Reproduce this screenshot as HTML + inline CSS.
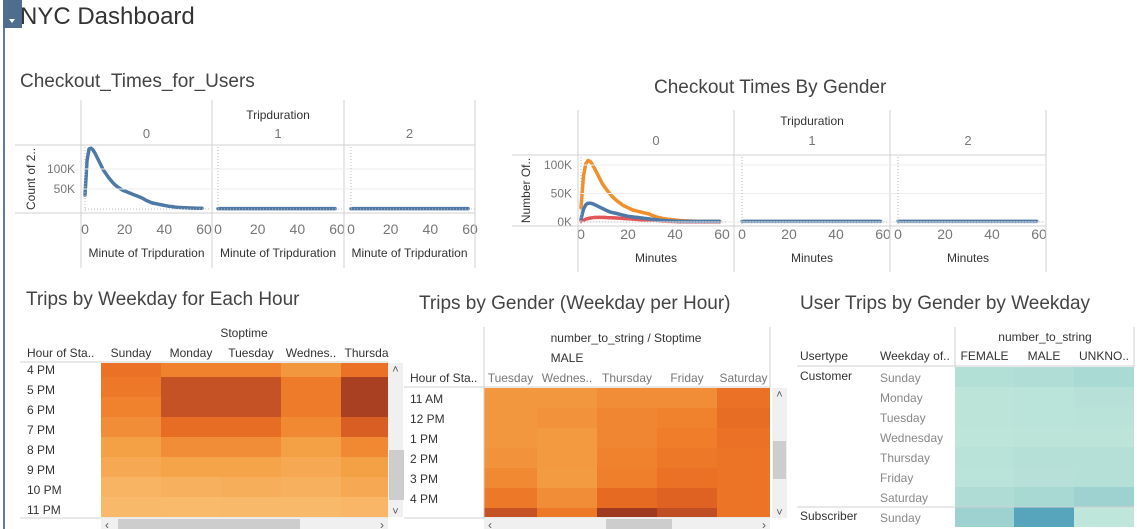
<!DOCTYPE html>
<html><head><meta charset="utf-8">
<style>
html,body{margin:0;padding:0;background:#fff;}
svg{display:block;font-family:"Liberation Sans",sans-serif;}
</style></head>
<body>
<svg id="dash" width="1137" height="529" viewBox="0 0 1137 529" xmlns="http://www.w3.org/2000/svg">
  <rect x="3" y="0" width="2" height="529" fill="#5b7ba0"/>
  <rect x="3" y="0" width="19" height="28" fill="#4f6d8f"/>
  <path d="M9 19 L15 19 L12 23 Z" fill="#fff"/>
  <text x="20" y="24" font-size="24" fill="#333">NYC Dashboard</text>

  <text x="20" y="87" font-size="19" fill="#444">Checkout_Times_for_Users</text>
  <text x="654" y="93" font-size="19" fill="#444">Checkout Times By Gender</text>
  <text x="26" y="305" font-size="19" fill="#444">Trips by Weekday for Each Hour</text>
  <text x="419" y="309" font-size="19" fill="#444">Trips by Gender (Weekday per Hour)</text>
  <text x="800" y="309" font-size="19" fill="#444">User Trips by Gender by Weekday</text>
  <g id="g"></g>
</svg>
<script>
// ---------- data ----------
const minutes = [];
for (let i = 0; i < 60; i++) minutes.push(i);
const usersP0 = [35,120,150,152,148,140,130,120,110,100,92,85,78,72,66,61,57,53,50,47,45,43,41,39,37,35,33,31,29,27,24,21,19,17,15,14,13,12,11,10,9,8,7,6.5,6,5,4.5,4,3.8,3.5,3.2,3,2.8,2.6,2.4,2.2,2.1,2,2,2];
const usersP1 = [1,1,1,1,1,1,1,1,1,1,1,1,1,1,1,1,1,1,1,1,1,1,1,1,1,1,1,1,1,1,1,1,1,1,1,1,1,1,1,1,1,1,1,1,1,1,1,1,1,1,1,1,1,1,1,1,1,1,1,1];
const usersP2 = usersP1.slice();
const genderOrangeP0 = [25,80,102,108,106,100,92,84,76,68,62,56,51,46,42,38,35,32,29,27,25,23,21,20,19,18,17,16,15,14,12,10.5,9,8,7,6,5.5,5,4.5,4,3.5,3,2.7,2.4,2.1,1.9,1.7,1.5,1.3,1.2,1.1,1,1,1,1,1,1,1,1,1];
const genderBlueP0 = [5,22,30,33,33,32,30,28,26,24,22,20,18,17,16,15,14,13,12,11,10,9.5,9,8.5,8,7.5,7,6.5,6,5.5,5,4.5,4,3.5,3,2.7,2.4,2.1,1.9,1.7,1.5,1.3,1.1,1,1,1,1,1,1,1,1,1,1,1,1,1,1,1,1,1];
const genderRedP0 = [1,3,5,6,7,7.5,8,8,8,8,8,7.8,7.6,7.4,7.2,7,6.8,6.5,6.2,6,5.7,5.4,5.1,4.8,4.5,4.2,3.9,3.6,3.3,3,2.7,2.4,2.1,1.9,1.7,1.5,1.3,1.1,1,0.9,0.8,0.7,0.6,0.5,0.5,0.5,0.5,0.5,0.5,0.5,0.5,0.5,0.5,0.5,0.5,0.5,0.5,0.5,0.5,0.5];
const flatP = usersP1.slice();
const xTicks = [0,20,40,60];
const yTicks1 = ["50K","100K"], yTickVals1 = [50,100];
const yTicks2 = ["0K","50K","100K"], yTickVals2 = [0,50,100];

const hm1Rows = ["4 PM","5 PM","6 PM","7 PM","8 PM","9 PM","10 PM","11 PM"];
const hm1Cols = ["Sunday","Monday","Tuesday","Wednes..","Thursda"];
const hm1Vals = [
 [72,62,62,50,72],[68,88,88,66,97],[62,88,88,66,97],[56,74,74,58,82],
 [45,56,56,45,58],[38,42,42,38,45],[30,32,34,32,38],[26,25,26,26,28]];
const hm2Rows = ["11 AM","12 PM","1 PM","2 PM","3 PM","4 PM","5 PM"];
const hm2Cols = ["Tuesday","Wednes..","Thursday","Friday","Saturday"];
const hm2Vals = [
 [50,50,56,56,72],[50,53,60,62,74],[50,49,60,65,72],[53,49,62,68,70],
 [58,48,64,72,70],[68,56,76,80,70],[88,68,100,90,70]];
const hm3Days = ["Sunday","Monday","Tuesday","Wednesday","Thursday","Friday","Saturday","Sunday"];
const hm3Cols = ["FEMALE","MALE","UNKNO.."];
const hm3Vals = [[18,20,28],[6,9,12],[6,9,10],[4,6,6],[10,14,16],[8,12,14],[22,30,42],[42,88,3]];

// ---------- helpers ----------
const NS = "http://www.w3.org/2000/svg";
const G = document.getElementById("g");
function mk(tag, attrs, parent) {
  const e = document.createElementNS(NS, tag);
  for (const k in attrs) e.setAttribute(k, attrs[k]);
  (parent || G).appendChild(e);
  return e;
}
function txt(x, y, s, size, fill, anchor, parent) {
  const t = mk("text", {x: x, y: y, "font-size": size, fill: fill, "text-anchor": anchor || "start"}, parent);
  t.textContent = s;
  return t;
}
function lerpHex(a, b, t) {
  const pa = [1,3,5].map(i => parseInt(a.substr(i,2),16));
  const pb = [1,3,5].map(i => parseInt(b.substr(i,2),16));
  return "rgb(" + pa.map((v,i) => Math.round(v + (pb[i]-v)*t)).join(",") + ")";
}
function scaleColor(stops, v) {
  const t = Math.max(0, Math.min(1, v/100));
  for (let i = 1; i < stops.length; i++) {
    if (t <= stops[i][0]) {
      const f = (t - stops[i-1][0]) / (stops[i][0] - stops[i-1][0]);
      return lerpHex(stops[i-1][1], stops[i][1], f);
    }
  }
  return stops[stops.length-1][1];
}
const orangeStops = [[0,"#fdd3a0"],[0.25,"#f9ba6c"],[0.45,"#f4a044"],[0.65,"#ef7d2a"],[0.78,"#e56622"],[0.9,"#bf4e24"],[1,"#9e3a20"]];
const tealStops = [[0,"#c1e7db"],[0.3,"#a8d9d3"],[0.6,"#8dc7cd"],[1,"#3e97b5"]];
const line = (x1,y1,x2,y2,c,w,dash,name) => {
  const l = mk("line", {x1:x1,y1:y1,x2:x2,y2:y2,stroke:c||"#d4d4d4","stroke-width":w||1});
  if (dash) l.setAttribute("stroke-dasharray", dash);
  
  
  return l;
};

// ---------- line charts ----------
function lineChart(cfg) {
  const g = mk("g", {});
  
  
  cfg.vlines.forEach(x => line(x, cfg.frameTop, x, cfg.frameBot, "#d0d0d0", 1, null, "panel-divider"));
  line(cfg.vlines[0] - 66, cfg.plotTop, cfg.vlines[3], cfg.plotTop, "#d0d0d0", 1, null, "plot-top-border");
  line(cfg.vlines[0] - 66, cfg.plotBot, cfg.vlines[3], cfg.plotBot, "#d0d0d0", 1, null, "plot-bottom-border");
  const ySc = v => cfg.y0 - v * cfg.yPer;
  cfg.yVals.forEach((v, i) => {
    line(cfg.vlines[0], ySc(v), cfg.vlines[3], ySc(v), "#eeeeee", 1, null, "y-gridline");
    const t = txt(cfg.vlines[0] - 6, ySc(v) + 4, cfg.yLabels[i], 12, "#777", "end", g);
    
    
  });
  const tt = txt((cfg.vlines[0] + cfg.vlines[3]) / 2, cfg.facetTitleY, "Tripduration", 12, "#333", "middle", g);
  
  
  const yt = txt(0, 0, cfg.yTitle, 12, "#333", "middle", g);
  yt.setAttribute("transform", "translate(" + cfg.yTitleX + "," + (cfg.plotTop + cfg.plotBot) / 2 + ") rotate(-90)");
  
  
  for (let p = 0; p < 3; p++) {
    const x0 = cfg.x0s[p], xSc = m => x0 + m * cfg.xPer;
    const ft = txt((cfg.vlines[p] + cfg.vlines[p+1]) / 2, cfg.facetY, String(p), 13, "#777", "middle", g);
    
    
    line(x0, cfg.plotTop + 2, x0, cfg.plotBot, "#bbb", 1, "1,2", "zero-line");
    line(x0, cfg.y0, x0 + 60 * cfg.xPer + 6, cfg.y0, "#bbb", 1, "1,2", "baseline");
    xTicks.forEach(v => {
      const t = txt(xSc(v), cfg.xTickY, String(v), 14, "#777", "middle", g);
      
      
    });
    const at = txt((cfg.vlines[p] + cfg.vlines[p+1]) / 2, cfg.xTitleY, cfg.xTitle, 12, "#333", "middle", g);
    
    
    cfg.series[p].forEach(s => {
      const d = minutes.map((m, i) => (i ? "L" : "M") + xSc(m).toFixed(1) + " " + ySc(s.vals[i]).toFixed(1)).join(" ");
      const path = mk("path", {d: d, fill: "none", stroke: s.color, "stroke-width": 3.5, "stroke-linejoin": "round", "stroke-linecap": "round"}, g);
      
      
    });
  }
}
lineChart({
  name: "checkout-times-users-chart", vlines: [81, 212, 344, 475], frameTop: 100, frameBot: 268,
  plotTop: 145, plotBot: 213, y0: 209, yPer: 0.4, yVals: yTickVals1, yLabels: yTicks1,
  facetTitleY: 119, facetY: 138, yTitle: "Count of 2..", yTitleX: 35,
  x0s: [85, 218, 351], xPer: 119 / 60, xTickY: 234, xTitle: "Minute of Tripduration", xTitleY: 257,
  series: [[{vals: usersP0, color: "#4e79a7", name: "users"}], [{vals: usersP1, color: "#4e79a7", name: "users"}], [{vals: usersP2, color: "#4e79a7", name: "users"}]]
});
lineChart({
  name: "checkout-times-gender-chart", vlines: [578, 734, 890, 1046], frameTop: 110, frameBot: 272,
  plotTop: 155, plotBot: 226, y0: 222, yPer: 0.57, yVals: yTickVals2, yLabels: yTicks2,
  facetTitleY: 125, facetY: 145, yTitle: "Number Of..", yTitleX: 530,
  x0s: [581, 742, 898], xPer: 141 / 60, xTickY: 239, xTitle: "Minutes", xTitleY: 262,
  series: [
    [{vals: genderOrangeP0, color: "#f28e2b", name: "male"}, {vals: genderRedP0, color: "#e15759", name: "unknown"}, {vals: genderBlueP0, color: "#4e79a7", name: "female"}],
    [{vals: flatP, color: "#4e79a7", name: "female"}],
    [{vals: flatP, color: "#4e79a7", name: "female"}]]
});

// ---------- heatmaps ----------
function scrollV(x, y, w, h, thumbY, thumbH, name) {
  const r = mk("rect", {x: x, y: y, width: w, height: h, fill: "#f0f0f0"});
  
  
  mk("rect", {x: x + 1, y: thumbY, width: w - 2, height: thumbH, fill: "#cdcdcd"});
  txt(x + w / 2, y + 10, "˄", 11, "#555", "middle");
  txt(x + w / 2, y + h - 2, "˅", 11, "#555", "middle");
}
function scrollH(x, y, w, h, thumbX, thumbW, name) {
  const r = mk("rect", {x: x, y: y, width: w, height: h, fill: "#f0f0f0"});
  
  
  mk("rect", {x: thumbX, y: y + 1, width: thumbW, height: h - 1, fill: "#cdcdcd"});
  txt(x + 6, y + 11, "‹", 12, "#555", "middle");
  txt(x + w - 6, y + 11, "›", 12, "#555", "middle");
}

// heatmap 1
(function () {
  const cx = [101, 161, 221, 281, 341, 388];
  const top = 363, rowH = 20, firstH = 14;
  hm1Vals.forEach((row, r) => {
    const y = r === 0 ? top : top + firstH + (r - 1) * rowH;
    const h = r === 0 ? firstH : rowH;
    row.forEach((v, c) => {
      const cell = mk("rect", {x: cx[c], y: y, width: cx[c+1] - cx[c], height: h, fill: scaleColor(orangeStops, v)});
      
      
    });
    const lt = txt(27, y + h - 3, hm1Rows[r], 12, "#333");
    
    
  });
  hm1Cols.forEach((c, i) => {
    const t = txt((cx[i] + cx[i+1]) / 2 + (i === 4 ? 2 : 0), 357, c, 12, "#333", "middle");
    
    
  });
  txt(27, 357, "Hour of Sta..", 12, "#333");
  txt(244, 337, "Stoptime", 12, "#333", "middle");
  line(20, 362, 388, 362, "#d0d0d0", 1, null, "header-separator");
  line(20, 518, 388, 518, "#d0d0d0", 1, null, "bottom-border");
  scrollV(388, 363, 15, 154, 450, 50, "hm1-vertical-scrollbar");
  scrollH(101, 518, 287, 11, 118, 182, "hm1-horizontal-scrollbar");
})();

// heatmap 2
(function () {
  const cx = [484, 537, 597, 657, 717, 770];
  const top = 388, rowH = 20;
  hm2Vals.forEach((row, r) => {
    const y = top + r * rowH;
    const h = r === 6 ? 9 : rowH;
    row.forEach((v, c) => {
      const cell = mk("rect", {x: cx[c], y: y, width: cx[c+1] - cx[c], height: h, fill: scaleColor(orangeStops, v)});
      
      
    });
    if (r < 6) {
      const lt = txt(410, y + 15, hm2Rows[r], 12, "#333");
      
      
    }
  });
  hm2Cols.forEach((c, i) => {
    const t = txt((cx[i] + cx[i+1]) / 2, 382, c, 12, "#777", "middle");
    
    
  });
  txt(410, 382, "Hour of Sta..", 12, "#333");
  txt(626, 342, "number_to_string / Stoptime", 12, "#333", "middle");
  txt(567, 362, "MALE", 12, "#333", "middle");
  line(484, 327, 484, 518, "#d0d0d0", 1, null, "header-divider");
  line(770, 327, 770, 388, "#d0d0d0", 1, null, "right-divider");
  line(404, 387, 770, 387, "#d0d0d0", 1, null, "header-separator");
  line(404, 518, 770, 518, "#d0d0d0", 1, null, "bottom-border");
  mk("rect", {x: 400, y: 450, width: 4, height: 50, fill: "#cdcdcd"});
  scrollV(772, 388, 15, 130, 441, 38, "hm2-vertical-scrollbar");
  scrollH(484, 518, 286, 11, 606, 66, "hm2-horizontal-scrollbar");
})();

// heatmap 3
(function () {
  const cx = [955, 1014, 1074, 1134];
  const top = 367, rowH = 20;
  hm3Vals.forEach((row, r) => {
    const y = top + r * rowH;
    row.forEach((v, c) => {
      const cell = mk("rect", {x: cx[c], y: y, width: cx[c+1] - cx[c], height: rowH, fill: scaleColor(tealStops, v)});
      
      
    });
    const lt = txt(880, y + 15, hm3Days[r], 12, "#888");
    
    
  });
  hm3Cols.forEach((c, i) => {
    const t = txt((cx[i] + cx[i+1]) / 2, 360, c, 12, "#333", "middle");
    
    
  });
  txt(800, 360, "Usertype", 12, "#333");
  txt(880, 360, "Weekday of..", 12, "#333");
  txt(1045, 341, "number_to_string", 12, "#333", "middle");
  txt(800, 380, "Customer", 12, "#333");
  txt(800, 520, "Subscriber", 12, "#333");
  line(955, 327, 955, 367, "#d0d0d0", 1, null, "header-divider");
  line(797, 366, 1134, 366, "#d0d0d0", 1, null, "header-separator");
  line(797, 507, 1134, 507, "#d0d0d0", 1, null, "group-separator");
  line(1134, 327, 1134, 367, "#d0d0d0", 1, null, "right-divider");
})();
</script>
</body></html>
